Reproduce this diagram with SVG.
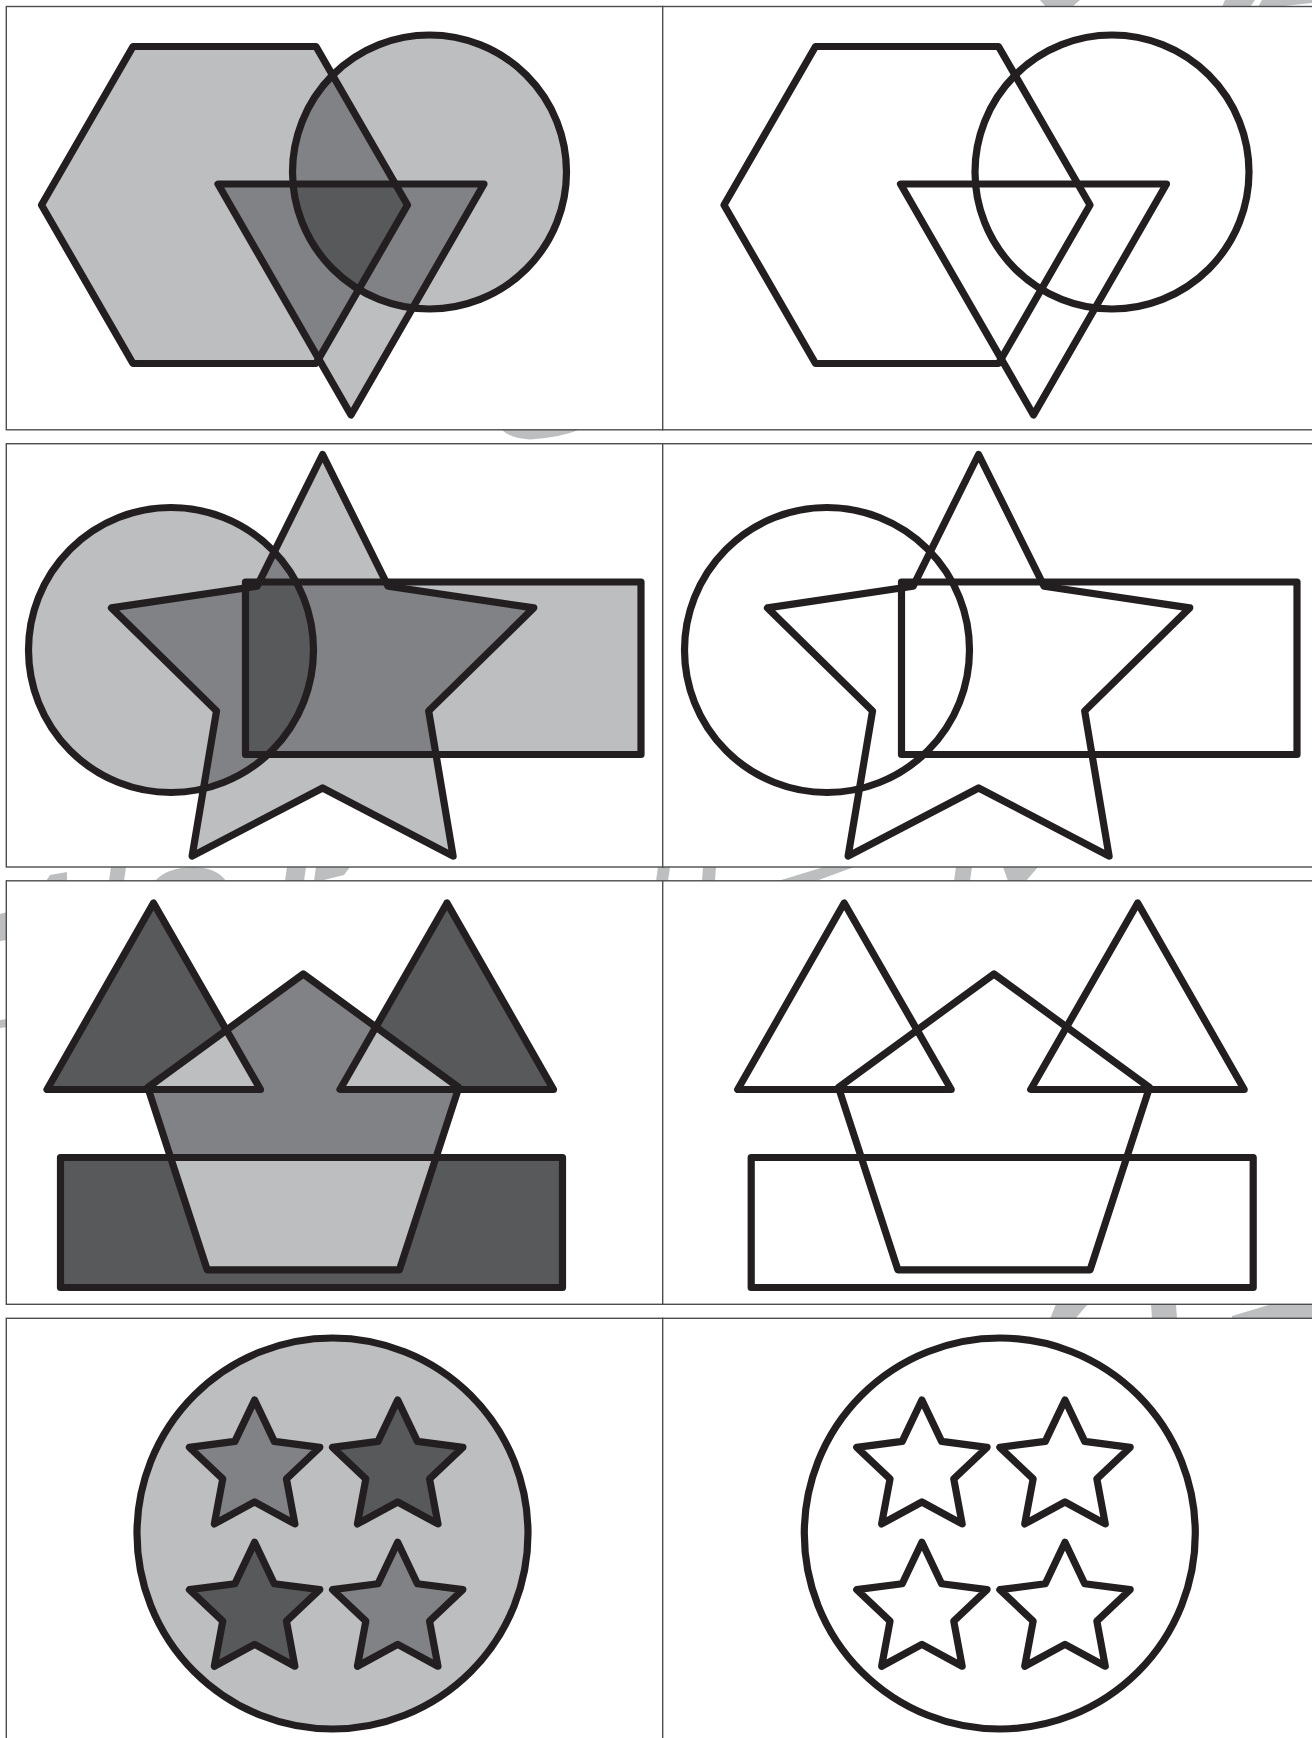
<svg xmlns="http://www.w3.org/2000/svg" width="1312" height="1738" viewBox="0 0 1312 1738">
<style>
 .frame{fill:#ffffff;stroke:#4d4d4f;stroke-width:1.4}
 .wm{fill:#bcbec0}
 .o{fill:none;stroke:#231f20;stroke-width:7.2;stroke-linejoin:round;stroke-linecap:round}
 .l{fill:#bcbec0}
 .m{fill:#808285}
 .d{fill:#58595b}
</style>
<defs>
 <polygon id="H1" points="41.5,205 133,46.5 316,46.5 407.5,205 316,363.5 133,363.5"/>
 <circle id="C1" cx="429.5" cy="172" r="137"/>
 <polygon id="T1" points="218,184 484,184 351,415"/>
 <circle id="C3" cx="171" cy="650" r="142.5"/>
 <polygon id="S3" points="322.6,454.5 388.14,586.3 533.73,607.9 428.65,710.95 453.09,856.1 322.6,788 192.11,856.1 216.55,710.95 111.47,607.9 257.06,586.3"/>
 <rect id="R3" x="245.5" y="582" width="395.5" height="172.5"/>
 <polygon id="TL5" points="153.5,903 47,1089.5 260.5,1089.5"/>
 <polygon id="TR5" points="447,903 340,1089.5 553.5,1089.5"/>
 <polygon id="P5" points="303.3,974 458.8,1087.5 399.4,1269.8 207.2,1269.8 147.8,1087.5"/>
 <rect id="R5" x="60.5" y="1157.5" width="502" height="130"/>
 <circle id="E7" cx="332.5" cy="1533.5" r="195.5"/>
 <polygon id="ST" points="0,-68.5 19.69,-27.1 65.15,-21.17 31.86,10.35 40.26,55.42 0,33.5 -40.26,55.42 -31.86,10.35 -65.15,-21.17 -19.69,-27.1"/>
 <clipPath id="cH1"><use href="#H1"/></clipPath>
 <clipPath id="cC1"><use href="#C1"/></clipPath>
 <clipPath id="cC3"><use href="#C3"/></clipPath>
 <clipPath id="cS3"><use href="#S3"/></clipPath>
 <clipPath id="cTL5"><use href="#TL5"/></clipPath>
 <clipPath id="cTR5"><use href="#TR5"/></clipPath>
 <clipPath id="cR5"><use href="#R5"/></clipPath>
</defs>

<g id="watermark">
 <path class="wm" d="M502,430 L578,430 Q562,437 530,439.5 Q510,438 502,430 Z"/>
 <polygon class="wm" points="50,875 67,872 67,881 46,881"/>
 <polygon class="wm" points="111,867 126,867 124,881 109,881"/>
 <path class="wm" d="M155,881 Q166,868 192,867 Q216,867 226,881 Z"/>
 <polygon class="wm" points="287,867 306,867 304,881 285,881"/>
 <polygon class="wm" points="316,867 350,867 344,875 320,881 314,881"/>
 <polygon class="wm" points="658,867 670,867 668,881 656,881"/>
 <polygon class="wm" points="703,867 716,867 715,881 702,881"/>
 <polygon class="wm" points="824,867 854,867 816,881 778,881"/>
 <polygon class="wm" points="956,867 972,867 970,881 954,881"/>
 <polygon class="wm" points="1003,867 1038,867 1026,881 1008,881"/>
 <polygon class="wm" points="1056,1304 1088,1304 1075,1319 1050,1319"/>
 <polygon class="wm" points="1151,1304 1176,1304 1177,1319 1152,1319"/>
 <polygon class="wm" points="1272,1304 1312,1304 1312,1319 1232,1319 1232,1316"/>
 <polygon class="wm" points="1040,0 1080,0 1072,7 1046,7"/>
 <polygon class="wm" points="1225,0 1255,0 1250,7 1222,7"/>
 <polygon class="wm" points="1262,0 1312,0 1312,3 1275,7 1258,7"/>
 <polygon class="wm" points="0,914 7,912 7,940 0,941"/>
 <polygon class="wm" points="0,1020 7,1019 7,1027 0,1028"/>
</g>

<g id="panel-1">
 <rect class="frame" x="6.3" y="6.5" width="656.4" height="423.3"/>
 <use href="#H1" class="l"/>
 <use href="#C1" class="l"/>
 <use href="#T1" class="l"/>
 <use href="#C1" class="m" clip-path="url(#cH1)"/>
 <use href="#T1" class="m" clip-path="url(#cH1)"/>
 <use href="#T1" class="m" clip-path="url(#cC1)"/>
 <g clip-path="url(#cH1)"><use href="#T1" class="d" clip-path="url(#cC1)"/></g>
 <use href="#H1" class="o"/>
 <use href="#C1" class="o"/>
 <use href="#T1" class="o"/>
</g>

<g id="panel-2">
 <rect class="frame" x="662.7" y="6.5" width="700" height="423.3"/>
 <g transform="translate(682.5,0)">
  <use href="#H1" class="o"/>
  <use href="#C1" class="o"/>
  <use href="#T1" class="o"/>
 </g>
</g>

<g id="panel-3">
 <rect class="frame" x="6.3" y="443.7" width="656.4" height="423.3"/>
 <use href="#C3" class="l"/>
 <use href="#S3" class="l"/>
 <use href="#R3" class="l"/>
 <use href="#S3" class="m" clip-path="url(#cC3)"/>
 <use href="#R3" class="m" clip-path="url(#cC3)"/>
 <use href="#R3" class="m" clip-path="url(#cS3)"/>
 <g clip-path="url(#cC3)"><use href="#R3" class="d" clip-path="url(#cS3)"/></g>
 <use href="#C3" class="o"/>
 <use href="#S3" class="o"/>
 <use href="#R3" class="o"/>
</g>

<g id="panel-4">
 <rect class="frame" x="662.7" y="443.7" width="700" height="423.3"/>
 <g transform="translate(656,0)">
  <use href="#C3" class="o"/>
  <use href="#S3" class="o"/>
  <use href="#R3" class="o"/>
 </g>
</g>

<g id="panel-5">
 <rect class="frame" x="6.3" y="880.8" width="656.4" height="423.5"/>
 <use href="#TL5" class="d"/>
 <use href="#TR5" class="d"/>
 <use href="#R5" class="d"/>
 <use href="#P5" class="m"/>
 <use href="#P5" class="l" clip-path="url(#cTL5)"/>
 <use href="#P5" class="l" clip-path="url(#cTR5)"/>
 <use href="#P5" class="l" clip-path="url(#cR5)"/>
 <use href="#TL5" class="o"/>
 <use href="#TR5" class="o"/>
 <use href="#P5" class="o"/>
 <use href="#R5" class="o"/>
</g>

<g id="panel-6">
 <rect class="frame" x="662.7" y="880.8" width="700" height="423.5"/>
 <g transform="translate(690.7,0)">
  <use href="#TL5" class="o"/>
  <use href="#TR5" class="o"/>
  <use href="#P5" class="o"/>
  <use href="#R5" class="o"/>
 </g>
</g>

<g id="panel-7">
 <rect class="frame" x="6.3" y="1318.3" width="656.4" height="440"/>
 <use href="#E7" class="l"/>
 <use href="#E7" class="o"/>
 <use href="#ST" class="m" transform="translate(254.6,1468.5)"/>
 <use href="#ST" class="d" transform="translate(397.7,1468.5)"/>
 <use href="#ST" class="d" transform="translate(254.6,1610.8)"/>
 <use href="#ST" class="m" transform="translate(397.7,1610.8)"/>
 <use href="#ST" class="o" transform="translate(254.6,1468.5)"/>
 <use href="#ST" class="o" transform="translate(397.7,1468.5)"/>
 <use href="#ST" class="o" transform="translate(254.6,1610.8)"/>
 <use href="#ST" class="o" transform="translate(397.7,1610.8)"/>
</g>

<g id="panel-8">
 <rect class="frame" x="662.7" y="1318.3" width="700" height="440"/>
 <g transform="translate(667.3,0)">
  <use href="#E7" class="o"/>
  <use href="#ST" class="o" transform="translate(254.6,1468.5)"/>
  <use href="#ST" class="o" transform="translate(397.7,1468.5)"/>
  <use href="#ST" class="o" transform="translate(254.6,1610.8)"/>
  <use href="#ST" class="o" transform="translate(397.7,1610.8)"/>
 </g>
</g>

<g id="connectors"></g>
</svg>
